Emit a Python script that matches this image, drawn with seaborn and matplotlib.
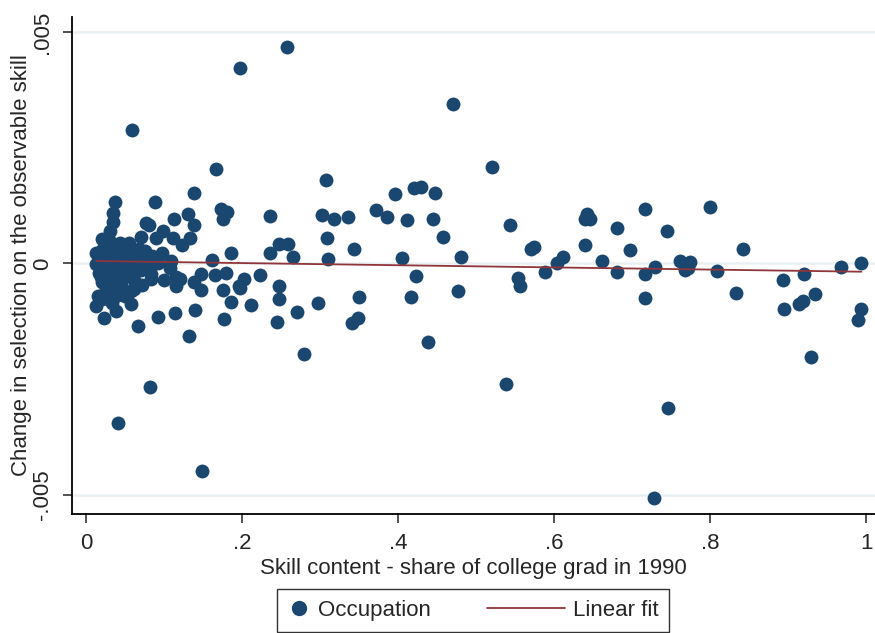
import numpy as np
import pandas as pd
import matplotlib
matplotlib.use("Agg")
import matplotlib.pyplot as plt
import seaborn as sns
from matplotlib.lines import Line2D
from matplotlib.legend_handler import HandlerLine2D

sns.set_theme(style="white")
plt.rcParams['font.family'] = ['Liberation Sans', 'DejaVu Sans']

# skill content (share of college grads in 1990)
skill_share = [
    0.257, 0.198, 0.059, 0.470, 0.520, 0.167, 0.308,
    0.236, 0.302, 0.318, 0.336, 0.372, 0.386, 0.396, 0.420, 0.429, 0.448, 0.412, 0.445, 0.458,
    0.309, 0.236, 0.248, 0.259, 0.265, 0.310, 0.344, 0.405, 0.481, 0.203, 0.197, 0.223, 0.247,
    0.248, 0.212, 0.271, 0.245, 0.298, 0.350, 0.349, 0.341, 0.279, 0.423, 0.417, 0.439, 0.477,
    0.544, 0.571, 0.574, 0.554, 0.556, 0.588, 0.604, 0.612, 0.539, 0.640, 0.642, 0.646, 0.640,
    0.661, 0.681, 0.681, 0.698, 0.716, 0.716, 0.717, 0.730, 0.745, 0.761, 0.774, 0.768, 0.772,
    0.800, 0.809, 0.746, 0.728,
    0.842, 0.833, 0.893, 0.895, 0.921, 0.914, 0.919, 0.935, 0.930, 0.968, 0.994, 0.994, 0.990,
    0.139, 0.037, 0.088, 0.034, 0.173, 0.181, 0.176, 0.034, 0.113, 0.131, 0.139, 0.081, 0.031,
    0.071, 0.099, 0.090, 0.111, 0.133, 0.123, 0.021, 0.186, 0.162, 0.109, 0.085, 0.068, 0.048,
    0.013, 0.013, 0.147, 0.165, 0.180, 0.139, 0.147, 0.115, 0.115, 0.100, 0.083, 0.083, 0.072,
    0.062, 0.176, 0.186, 0.196, 0.041, 0.058, 0.013, 0.021, 0.038, 0.023, 0.066, 0.092, 0.114,
    0.140, 0.177, 0.132, 0.082, 0.041, 0.149,
    0.017, 0.021, 0.015, 0.077, 0.075, 0.098, 0.107, 0.092, 0.070, 0.120,
    0.020, 0.025, 0.028, 0.030, 0.032, 0.035, 0.038, 0.040, 0.042, 0.045, 0.048, 0.050, 0.052,
    0.055, 0.058, 0.060, 0.062, 0.065, 0.068, 0.070, 0.026, 0.034, 0.044, 0.055, 0.024, 0.030,
    0.036, 0.046, 0.058, 0.075, 0.080, 0.078, 0.019, 0.027, 0.033, 0.050, 0.017, 0.022,
]

# change in selection on the observable skill, in units of 0.001
selection_change_e3 = [
    4.67, 4.22, 2.89, 3.45, 2.08, 2.03, 1.81,
    1.02, 1.04, 0.95, 1.01, 1.16, 1.01, 1.49, 1.63, 1.65, 1.53, 0.94, 0.97, 0.58,
    0.56, 0.22, 0.43, 0.41, 0.13, 0.09, 0.32, 0.12, 0.15, -0.33, -0.52, -0.24, -0.48,
    -0.76, -0.90, -1.04, -1.27, -0.85, -0.72, -1.17, -1.29, -1.95, -0.28, -0.72, -1.69, -0.59,
    0.82, 0.32, 0.36, -0.32, -0.48, -0.18, 0.02, 0.15, -2.60, 0.95, 1.06, 0.97, 0.39,
    0.06, 0.77, -0.18, 0.29, 1.18, -0.23, -0.74, -0.07, 0.70, 0.06, 0.03, -0.15, -0.09,
    1.21, -0.16, -3.12, -5.06,
    0.31, -0.64, -0.35, -0.98, -0.22, -0.88, -0.82, -0.66, -2.03, -0.08, 0.00, -0.98, -1.22,
    1.52, 1.33, 1.32, 1.09, 1.18, 1.11, 0.95, 0.89, 0.95, 1.06, 0.83, 0.83, 0.70,
    0.58, 0.71, 0.54, 0.55, 0.54, 0.39, 0.52, 0.22, 0.07, 0.05, 0.16, 0.31, 0.38,
    0.23, -0.02, -0.23, -0.25, -0.20, -0.41, -0.58, -0.30, -0.48, -0.36, -0.23, -0.34, -0.47,
    -0.55, -0.58, -0.84, -0.48, -0.68, -0.88, -0.91, -0.77, -1.02, -1.18, -1.36, -1.15, -1.06,
    -1.00, -1.21, -1.57, -2.66, -3.44, -4.48,
    -0.20, -0.41, -0.70, 0.88, 0.27, 0.23, -0.09, 0.02, -0.09, -0.34,
    0.30, 0.10, -0.05, 0.25, -0.30, 0.05, 0.40, -0.15, 0.20, -0.45, 0.00, 0.30, -0.25,
    0.10, -0.10, 0.25, -0.35, 0.05, 0.15, -0.15, -0.55, -0.50, 0.45, 0.45, 0.40, 0.50,
    0.20, -0.30, -0.60, 0.00, 0.10, -0.10, -0.30, -0.75, -0.85, -0.70, 0.05, -0.10,
]

x_ticks = [0, 0.2, 0.4, 0.6, 0.8, 1.0]
x_tick_labels = ["0", ".2", ".4", ".6", ".8", "1"]
y_ticks = [-0.005, 0, 0.005]
y_tick_labels = ["-.005", "0", ".005"]

df = pd.DataFrame({
    "skill": skill_share,
    "sel": np.array(selection_change_e3) * 1e-3,
})

navy = "#1a476f"
maroon = "#90353b"


class LongLineHandler(HandlerLine2D):
    # stata-style legend: fit line key is longer than the marker key
    def get_xdata(self, legend, xdescent, ydescent, width, height, fontsize):
        extra = 2.5 * fontsize
        xdata = np.array([-xdescent - extra, width - xdescent])
        return xdata, xdata


fig = plt.figure(figsize=(8.75, 6.33), dpi=100)
ax = fig.add_axes([0.0823, 0.188, 0.9177, 0.785])

for yt in y_ticks:
    ax.axhline(yt, color="#eaf0f2", lw=1.8, zorder=0)

sns.scatterplot(data=df, x="skill", y="sel", ax=ax, color=navy, s=100,
                linewidth=0, zorder=3)
sns.regplot(data=df, x="skill", y="sel", ax=ax, scatter=False, ci=None,
            line_kws={"color": maroon, "lw": 1.3, "zorder": 4})

ax.set_xlim(-0.018, 1.0115)
ax.set_ylim(-0.00541, 0.00532)
ax.set_xticks(x_ticks)
ax.set_xticklabels(x_tick_labels, fontsize=16)
ax.set_yticks(y_ticks)
ax.set_yticklabels(y_tick_labels, fontsize=16, rotation=90, va="center")
ax.tick_params(axis="both", direction="out", length=6.5, width=1.2, color="#333333",
               left=True, bottom=True, pad=7)

ax.set_xlabel("Skill content - share of college grad in 1990", fontsize=16, labelpad=3)
ax.set_ylabel("Change in selection on the observable skill", fontsize=16, labelpad=0)

sns.despine(ax=ax, top=True, right=True)
for side in ["left", "bottom"]:
    ax.spines[side].set_color("black")
    ax.spines[side].set_linewidth(1.3)

occ_handle = Line2D([], [], marker="o", linestyle="none", color=navy, markersize=10)
fit_handle = Line2D([], [], color=maroon, lw=1.3)
leg = fig.legend([occ_handle, fit_handle], ["Occupation", "Linear fit"],
                 loc="upper left", bbox_to_anchor=(277 / 875, 1 - 589 / 633),
                 ncol=2, fontsize=16, frameon=True, fancybox=False, edgecolor="black",
                 handlelength=1.0, handletextpad=0.36, columnspacing=5.0,
                 borderpad=0.5, borderaxespad=0,
                 handler_map={fit_handle: LongLineHandler()})
leg.get_frame().set_linewidth(1.0)

fig.savefig("out.png", dpi=100)
